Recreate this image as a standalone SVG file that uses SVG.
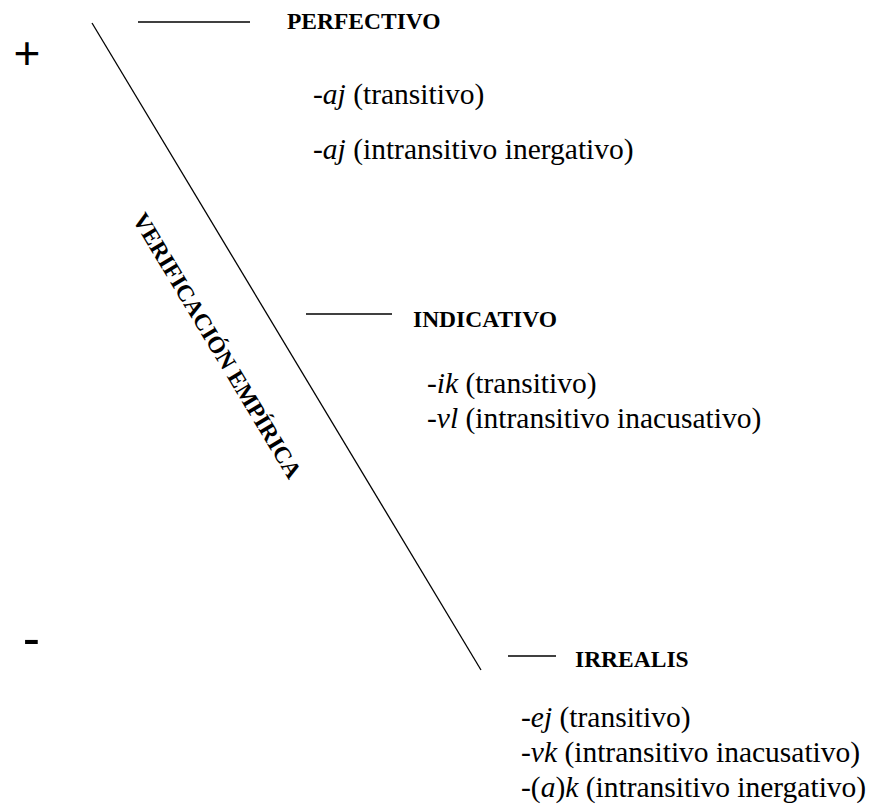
<svg xmlns="http://www.w3.org/2000/svg" width="879" height="810" viewBox="0 0 879 810">
<style>
.t{font-family:"Liberation Serif","Times New Roman",serif;font-size:29.5px;fill:#000}
.h{font-family:"Liberation Serif","Times New Roman",serif;font-size:23.5px;font-weight:bold;fill:#000}
.s{font-family:"Liberation Sans",Arial,sans-serif;fill:#000}
.ln{stroke:#000;stroke-width:1.3;fill:none}
.i{font-style:italic}
</style>
<rect width="879" height="810" fill="#fff"/>
<g id="connectors">
<line class="ln" x1="92" y1="23" x2="481" y2="670"/>
<line class="ln" x1="138" y1="22" x2="250" y2="22"/>
<line class="ln" x1="306" y1="314" x2="392" y2="314"/>
<line class="ln" x1="508" y1="656" x2="556" y2="656"/>
</g>
<g id="plus"><text class="s" x="13.5" y="68.5" font-size="46">+</text></g>
<g id="minus"><text class="s" x="22.7" y="656" font-size="52">-</text></g>
<g id="axis"><text class="h" transform="translate(132,219) rotate(59)">VERIFICACIÓN EMPÍRICA</text></g>
<g id="perfectivo">
<text class="h" x="287" y="29">PERFECTIVO</text>
<text class="t" x="313" y="104">-<tspan class="i">aj</tspan> (transitivo)</text>
<text class="t" x="313" y="159">-<tspan class="i">aj</tspan> (intransitivo inergativo)</text>
</g>
<g id="indicativo">
<text class="h" x="413" y="327">INDICATIVO</text>
<text class="t" x="427" y="393">-<tspan class="i">ik</tspan> (transitivo)</text>
<text class="t" x="427" y="428">-<tspan class="i">vl</tspan> (intransitivo inacusativo)</text>
</g>
<g id="irrealis">
<text class="h" x="575" y="667">IRREALIS</text>
<text class="t" x="521" y="727">-<tspan class="i">ej</tspan> (transitivo)</text>
<text class="t" x="521" y="762">-<tspan class="i">vk</tspan> (intransitivo inacusativo)</text>
<text class="t" x="521" y="797">-(<tspan class="i">a</tspan>)<tspan class="i">k</tspan> (intransitivo inergativo)</text>
</g>
</svg>
